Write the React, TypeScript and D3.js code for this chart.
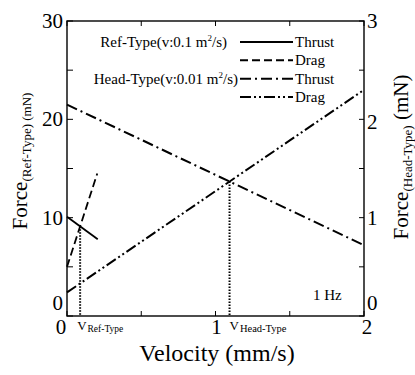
import React from "react";
import * as d3 from "d3";

// Velocity axis (mm/s) and the two force axes (mN)
const velocityTicks = [0, 1, 2];
const velocityMinorTicks = [0.5, 1.5];
const refForceTicks = [0, 10, 20, 30];
const refForceMinorTicks = [5, 15, 25];
const headForceTicks = [0, 1, 2, 3];
const headForceMinorTicks = [0.5, 1.5, 2.5];

// Ref-Type (v:0.1 m²/s), left axis
const refThrustVelocity = [0, 0.207];
const refThrustForce = [10.1, 7.8];
const refDragVelocity = [0, 0.204];
const refDragForce = [5.0, 14.5];

// Head-Type (v:0.01 m²/s), right axis
const headThrustVelocity = [0, 2];
const headThrustForce = [2.15, 0.72];
const headDragVelocity = [0, 2];
const headDragForce = [0.24, 2.3];

const legendRows = [
  { group: "Ref-Type(v:0.1 m", unit: "2", tail: "/s)", gap: 13, label: "Thrust", dash: "none" },
  { group: "", unit: "", tail: "", gap: 0, label: "Drag", dash: "8,4" },
  { group: "Head-Type(v:0.01 m", unit: "2", tail: "/s)", gap: 2, label: "Thrust", dash: "11,4,2,4" },
  { group: "", unit: "", tail: "", gap: 0, label: "Drag", dash: "11,3,2,3,2,3" },
];

const W = 415;
const H = 375;
const M = { left: 67, right: 51, top: 21, bottom: 59 };
const FONT = "'Liberation Serif', 'Times New Roman', serif";

type Pt = [number, number];

function zip(xs: number[], ys: number[]): Pt[] {
  return xs.map((x, i) => [x, ys[i]] as Pt);
}

// Crossing point of two straight segments (given as two-point series)
function crossing(a: Pt[], b: Pt[]): Pt {
  const sa = (a[1][1] - a[0][1]) / (a[1][0] - a[0][0]);
  const sb = (b[1][1] - b[0][1]) / (b[1][0] - b[0][0]);
  const ia = a[0][1] - sa * a[0][0];
  const ib = b[0][1] - sb * b[0][0];
  const v = (ib - ia) / (sa - sb);
  return [v, ia + sa * v];
}

export default function App() {
  const x = d3.scaleLinear().domain([0, 2]).range([M.left, W - M.right]);
  const yRef = d3.scaleLinear().domain([0, 30]).range([H - M.bottom, M.top]);
  const yHead = d3.scaleLinear().domain([0, 3]).range([H - M.bottom, M.top]);

  const lineRef = d3.line<Pt>().x((d) => x(d[0])).y((d) => yRef(d[1]));
  const lineHead = d3.line<Pt>().x((d) => x(d[0])).y((d) => yHead(d[1]));

  const refThrust = zip(refThrustVelocity, refThrustForce);
  const refDrag = zip(refDragVelocity, refDragForce);
  const headThrust = zip(headThrustVelocity, headThrustForce);
  const headDrag = zip(headDragVelocity, headDragForce);

  const refOp = crossing(refThrust, refDrag);
  const headOp = crossing(headThrust, headDrag);

  const x0 = M.left;
  const x1 = W - M.right;
  const y0 = H - M.bottom;
  const y1 = M.top;

  const legendX0 = 240;
  const legendX1 = 293;
  const legendY = d3.scaleLinear().domain([0, 3]).range([42, 97]);

  const xLabelShift = (t: number) => (t === 0 ? -6 : t === 2 ? 3 : 1);
  const yLabelShift = (t: number) => (t === 0 ? -6 : 7);

  return (
    <svg width={W} height={H} style={{ display: "block", position: "absolute", left: 0, top: 0, background: "#fff" }}>
      <g fontFamily={FONT} fill="#000">
        {/* frame */}
        <rect x={x0} y={y1} width={x1 - x0} height={y0 - y1} fill="none" stroke="#000" strokeWidth={1.4} />

        {/* velocity ticks on bottom and top edges, pointing inward */}
        {[...velocityTicks, ...velocityMinorTicks].map((t) => (
          <g key={"vx" + t}>
            <line x1={x(t)} x2={x(t)} y1={y0} y2={y0 - 5} stroke="#000" strokeWidth={1} />
            <line x1={x(t)} x2={x(t)} y1={y1} y2={y1 + 5} stroke="#000" strokeWidth={1} />
          </g>
        ))}
        {/* left axis ticks */}
        {[...refForceTicks, ...refForceMinorTicks].map((t) => (
          <line key={"ly" + t} x1={x0} x2={x0 + 6} y1={yRef(t)} y2={yRef(t)} stroke="#000" strokeWidth={1} />
        ))}
        {/* right axis ticks */}
        {[...headForceTicks, ...headForceMinorTicks].map((t) => (
          <line key={"ry" + t} x1={x1} x2={x1 - 5} y1={yHead(t)} y2={yHead(t)} stroke="#000" strokeWidth={1} />
        ))}

        {/* tick labels */}
        {velocityTicks.map((t) => (
          <text key={"xl" + t} x={x(t) + xLabelShift(t)} y={y0 + 18} fontSize={21} textAnchor="middle">
            {t}
          </text>
        ))}
        {refForceTicks.map((t) => (
          <text key={"yl" + t} x={x0 - 4} y={yRef(t) + yLabelShift(t)} fontSize={21} textAnchor="end">
            {t}
          </text>
        ))}
        {headForceTicks.map((t) => (
          <text key={"yr" + t} x={x1 + 3} y={yHead(t) + yLabelShift(t) + (t === 2 ? 3 : 0)} fontSize={21} textAnchor="start">
            {t}
          </text>
        ))}

        {/* axis titles */}
        <text x={217} y={361} fontSize={24} textAnchor="middle">
          Velocity (mm/s)
        </text>
        <text transform="translate(27,161) rotate(-90)" textAnchor="middle" fontSize={21}>
          Force
          <tspan fontSize={13} dy={4}>(Ref-Type) (mN)</tspan>
        </text>
        <text transform="translate(408,157) rotate(-90)" textAnchor="middle" fontSize={21}>
          Force
          <tspan fontSize={13} dy={4}>(Head-Type)</tspan>
          <tspan dy={-4}> (mN)</tspan>
        </text>

        {/* operating points: thrust = drag */}
        <line x1={x(refOp[0])} x2={x(refOp[0])} y1={yRef(refOp[1])} y2={y0} stroke="#000" strokeWidth={2} strokeDasharray="1.5,1.5" />
        <line x1={x(headOp[0])} x2={x(headOp[0])} y1={yHead(headOp[1])} y2={y0} stroke="#000" strokeWidth={2} strokeDasharray="1.5,1.5" />
        <text x={x(refOp[0]) - 3} y={y0 + 14} fontSize={13}>
          V<tspan fontSize={9.5} dx={1} dy={2}>Ref-Type</tspan>
        </text>
        <text x={x(headOp[0])} y={y0 + 14} fontSize={13}>
          V<tspan fontSize={10.5} dx={1} dy={2}>Head-Type</tspan>
        </text>

        {/* curves */}
        <path d={lineRef(refThrust) || ""} fill="none" stroke="#000" strokeWidth={1.8} />
        <path d={lineRef(refDrag) || ""} fill="none" stroke="#000" strokeWidth={1.8} strokeDasharray="8,4" />
        <path d={lineHead(headThrust) || ""} fill="none" stroke="#000" strokeWidth={2} strokeDasharray="11,4,2,4" />
        <path d={lineHead(headDrag) || ""} fill="none" stroke="#000" strokeWidth={2} strokeDasharray="11,3,2,3,2,3" />

        {/* legend */}
        {legendRows.map((r, i) => (
          <g key={"lg" + i}>
            {r.group && (
              <text x={legendX0 - r.gap} y={legendY(i) + 5} fontSize={15} textAnchor="end">
                {r.group}
                <tspan fontSize={9} dy={-6}>{r.unit}</tspan>
                <tspan dy={6}>{r.tail}</tspan>
              </text>
            )}
            <line x1={legendX0} x2={legendX1} y1={legendY(i)} y2={legendY(i)} stroke="#000" strokeWidth={2} strokeDasharray={r.dash} />
            <text x={legendX1 + 2} y={legendY(i) + 5} fontSize={15}>
              {r.label}
            </text>
          </g>
        ))}

        <text x={313} y={300} fontSize={15}>
          1 Hz
        </text>
      </g>
    </svg>
  );
}
